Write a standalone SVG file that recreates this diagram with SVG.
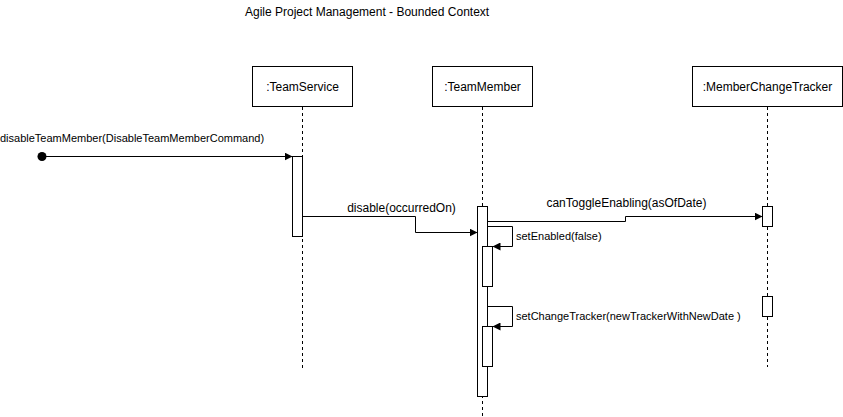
<svg xmlns="http://www.w3.org/2000/svg" width="843" height="417" viewBox="0 0 843 417">
<style>
text{font-family:"Liberation Sans",Arial,sans-serif;fill:#000}
.box{fill:#fff;stroke:#000;stroke-width:1}
.life{stroke:#000;stroke-width:1;stroke-dasharray:3 3;fill:none}
.act{fill:#fff;stroke:#000;stroke-width:1}
.msg{fill:none;stroke:#000;stroke-width:1;marker-end:url(#arr)}
</style>
<defs>
<marker id="arr" markerWidth="8" markerHeight="8" refX="8" refY="4" orient="auto" markerUnits="userSpaceOnUse">
<path d="M0,0 L8,4 L0,8 Z" fill="#000"/>
</marker>
</defs>
<rect width="843" height="417" fill="#fff"/>
<text x="245" y="16" font-size="12">Agile Project Management - Bounded Context</text>

<g id="TeamService">
<rect class="box" x="252.5" y="66.5" width="100" height="40"/>
<text x="302.5" y="90.5" font-size="12" text-anchor="middle">:TeamService</text>
<line class="life" x1="302.5" y1="107" x2="302.5" y2="370"/>
<rect class="act" x="292.5" y="156.5" width="10" height="80"/>
</g>

<g id="TeamMember">
<rect class="box" x="432.5" y="66.5" width="100" height="40"/>
<text x="482.5" y="90.5" font-size="12" text-anchor="middle">:TeamMember</text>
<line class="life" x1="482.5" y1="107" x2="482.5" y2="417"/>
<rect class="act" x="477.5" y="206.5" width="10" height="190"/>
<rect class="act" x="482.5" y="246.5" width="10" height="40"/>
<rect class="act" x="482.5" y="326.5" width="10" height="40"/>
</g>

<g id="MemberChangeTracker">
<rect class="box" x="692.5" y="66.5" width="150" height="40"/>
<text x="767.5" y="90.5" font-size="12" text-anchor="middle">:MemberChangeTracker</text>
<line class="life" x1="767.5" y1="107" x2="767.5" y2="367"/>
<rect class="act" x="762.5" y="206.5" width="10" height="20"/>
<rect class="act" x="762.5" y="296.5" width="10" height="20"/>
</g>

<g id="connectors">
<circle cx="42" cy="156.5" r="4.5" fill="#000"/>
<path class="msg" d="M42,156.5 H292.5"/>
<text x="0" y="142" font-size="11">disableTeamMember(DisableTeamMemberCommand)</text>

<path class="msg" d="M302.5,216.5 H415.5 V232.5 H477.5"/>
<text x="401.5" y="212" font-size="12" text-anchor="middle">disable(occurredOn)</text>

<path class="msg" d="M487.5,221.5 H625.5 V216.5 H762.5"/>
<text x="626.5" y="207" font-size="12" text-anchor="middle">canToggleEnabling(asOfDate)</text>

<path class="msg" d="M487.5,226.5 H512.5 V246.5 H492.5"/>
<text x="516" y="240" font-size="11">setEnabled(false)</text>

<path class="msg" d="M487.5,306.5 H512.5 V326.5 H492.5"/>
<text x="516" y="320" font-size="11">setChangeTracker(newTrackerWithNewDate )</text>
</g>
</svg>
